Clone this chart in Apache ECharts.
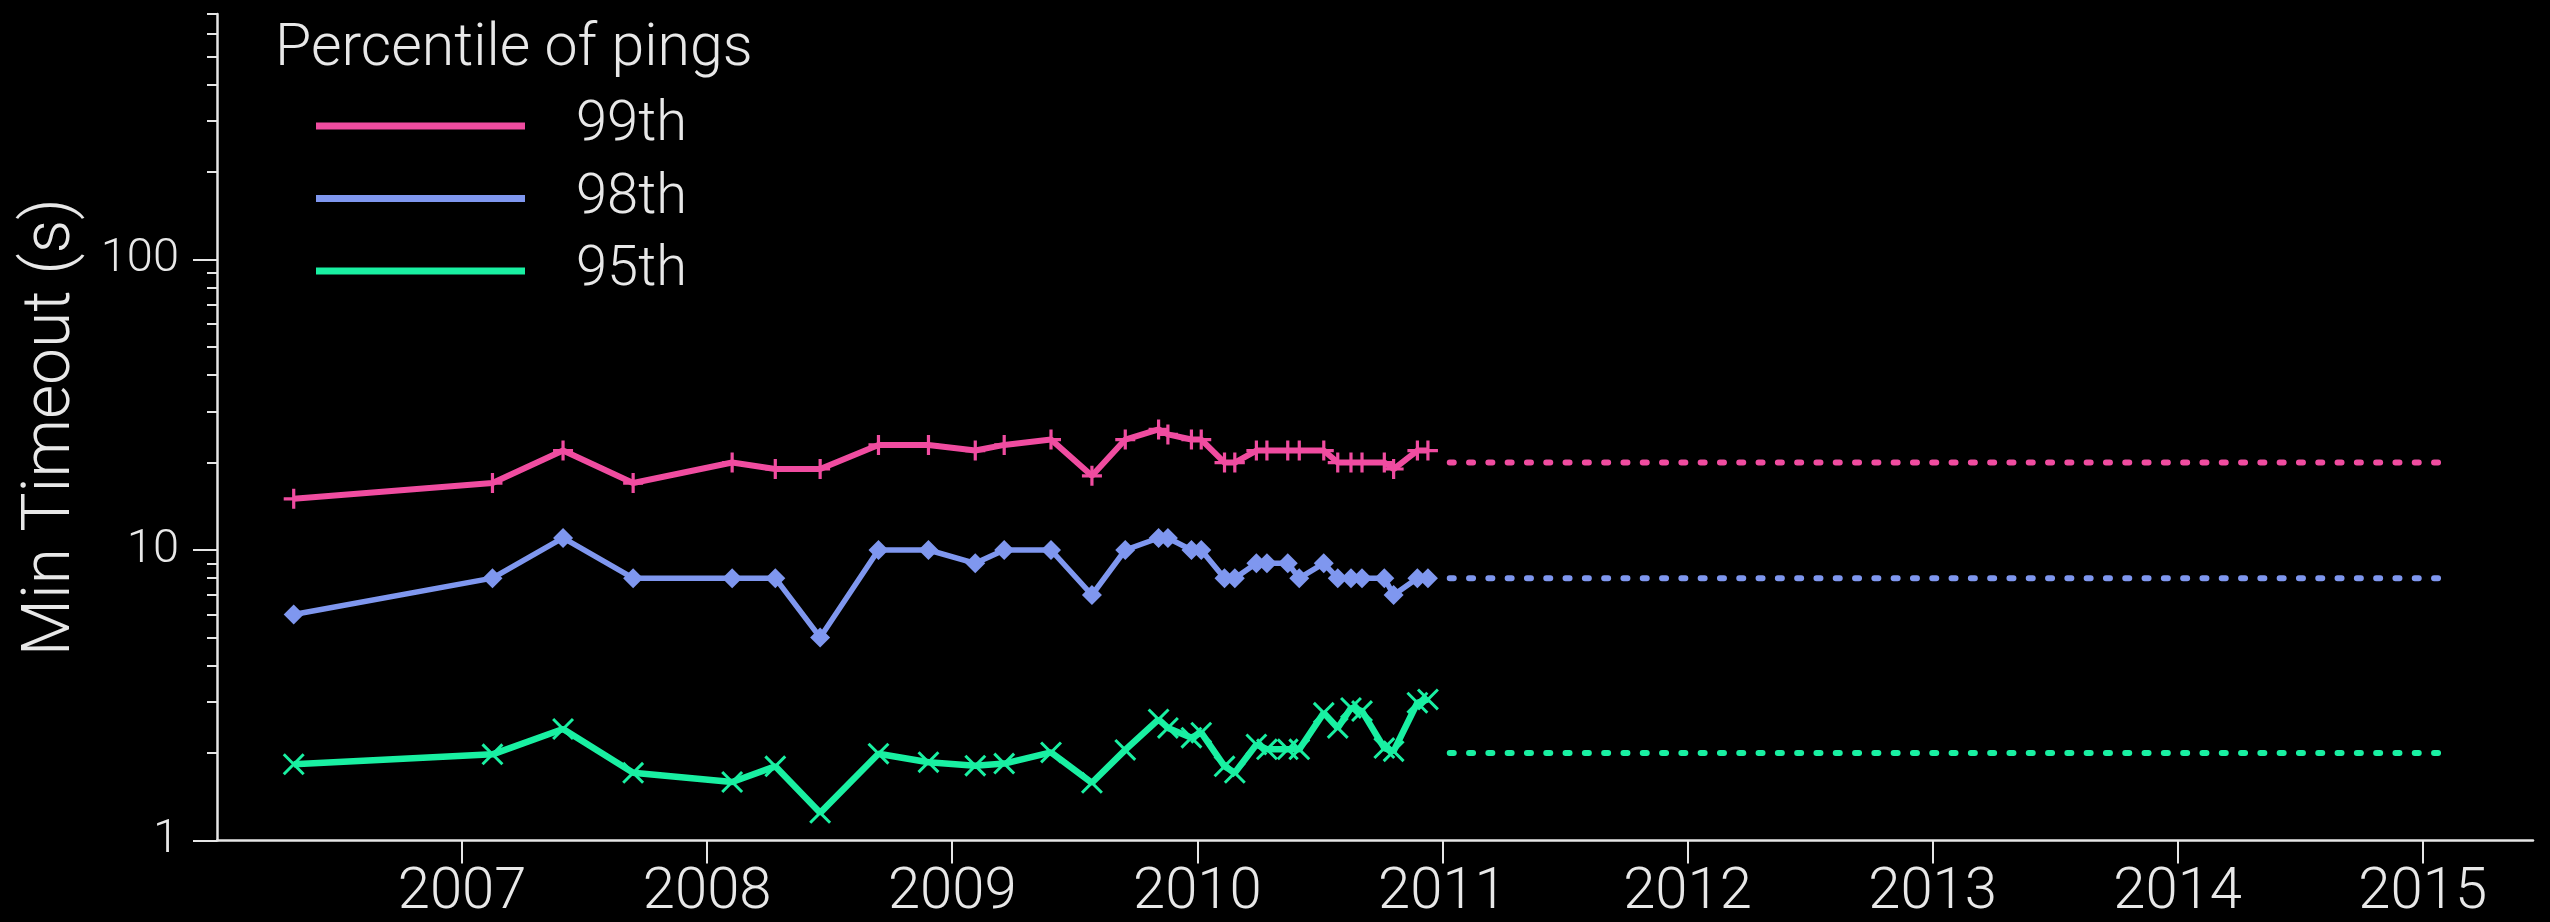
<!DOCTYPE html>
<html><head><meta charset="utf-8">
<script src="https://cdn.jsdelivr.net/npm/echarts@6/dist/echarts.min.js"></script>
<style>html,body{margin:0;padding:0;background:#000;}#c{width:2550px;height:922px;}</style>
</head><body><div id="c"></div>
<script>
// ---- data (decimal years, seconds) ----
const dates = [2006.313, 2007.124, 2007.412, 2007.698, 2008.102, 2008.278, 2008.461, 2008.699, 2008.903, 2009.094, 2009.212, 2009.403, 2009.570, 2009.706, 2009.842, 2009.880, 2009.976, 2010.016, 2010.111, 2010.153, 2010.241, 2010.284, 2010.369, 2010.416, 2010.516, 2010.573, 2010.627, 2010.672, 2010.763, 2010.801, 2010.898, 2010.941];
const p99 = [15, 17, 22, 17, 20, 19, 19, 23, 23, 22, 23, 24, 18, 24, 26, 25, 24, 24, 20, 20, 22, 22, 22, 22, 22, 20, 20, 20, 20, 19, 22, 22];
const p98 = [6, 8, 11, 8, 8, 8, 5, 10, 10, 9, 10, 10, 7, 10, 11, 11, 10, 10, 8, 8, 9, 9, 9, 8, 9, 8, 8, 8, 8, 7, 8, 8];
const p95 = [1.83, 1.98, 2.42, 1.71, 1.59, 1.80, 1.245, 1.99, 1.86, 1.81, 1.84, 2.01, 1.58, 2.05, 2.61, 2.44, 2.26, 2.35, 1.80, 1.71, 2.14, 2.06, 2.06, 2.06, 2.75, 2.44, 2.86, 2.79, 2.08, 2.03, 2.98, 3.06];
const projDates = [2011.03, 2015.08];
const proj99 = [20, 20];
const proj98 = [8, 8];
const proj95 = [2, 2];
const seriesNames = ['99th', '98th', '95th'];
const xTicks = [2007, 2008, 2009, 2010, 2011, 2012, 2013, 2014, 2015];
const yTicks = [1, 10, 100];
const yMinorTicks = [2, 3, 4, 5, 6, 7, 8, 9, 20, 30, 40, 50, 60, 70, 80, 90, 200, 300, 400, 500, 600, 700];
const xMin = 2006, xMax = 2015.45, yMin = 1, yMax = 700;

// ---- styling ----
const FONT = 'Roboto';
const TXT = '#e8e8e8';
const AX = '#e6e6e6';
const colors = ['#f04ca0', '#7f97ef', '#19f0a2'];
const plusPath = 'path://M-1.6,-10L1.6,-10L1.6,-1.6L10,-1.6L10,1.6L1.6,1.6L1.6,10L-1.6,10L-1.6,1.6L-10,1.6L-10,-1.6L-1.6,-1.6Z';
const xPath = 'path://M-8.94,-11.06L11.06,8.94L8.94,11.06L-11.06,-8.94ZM11.06,-8.94L-8.94,11.06L-11.06,8.94L8.94,-11.06Z';
const symbols = [plusPath, 'diamond', xPath];
const symSizes = [20, 20, 22];
const widths = [6, 5.5, 6.5];

const pair = (xs, ys) => xs.map((x, i) => [x, ys[i]]);
const mains = [p99, p98, p95];
const projs = [proj99, proj98, proj95];

const series = [];
mains.forEach((vals, i) => {
  series.push({
    name: seriesNames[i], type: 'line', data: pair(dates, vals),
    color: colors[i], symbol: symbols[i], symbolSize: symSizes[i], showSymbol: true,
    lineStyle: { width: widths[i], color: colors[i] },
    itemStyle: { color: colors[i] }, z: 3
  });
});
projs.forEach((vals, i) => {
  series.push({
    name: seriesNames[i] + ' proj', type: 'line', data: pair(projDates, vals),
    showSymbol: false, symbol: 'none', color: colors[i],
    lineStyle: { width: 6, color: colors[i], type: [4, 15.3], cap: 'round' }, z: 2
  });
});

const chart = echarts.init(document.getElementById('c'), null, { renderer: 'canvas' });
chart.setOption({
  backgroundColor: '#000',
  animation: false,
  title: {
    text: 'Percentile of pings', left: 270, top: 16,
    textStyle: { color: TXT, fontSize: 59, fontWeight: 300, fontFamily: FONT }
  },
  legend: {
    data: seriesNames, orient: 'vertical', left: 311, top: 91,
    icon: 'rect', itemWidth: 209, itemHeight: 7, itemGap: 12.5,
    textStyle: { color: TXT, fontSize: 56, fontWeight: 300, fontFamily: FONT, lineHeight: 60, padding: [0, 0, 0, 46] },
    selectedMode: false
  },
  grid: { left: 217, right: 17, top: 14, bottom: 81.5, containLabel: false, outerBoundsMode: 'none' },
  xAxis: {
    type: 'value', min: xMin, max: xMax, interval: 1,
    axisLine: { show: true, lineStyle: { color: AX, width: 2.5 } },
    axisTick: { show: true, length: 23, lineStyle: { color: AX, width: 2 }, customValues: xTicks },
    axisLabel: { customValues: xTicks, color: TXT, fontSize: 58, fontWeight: 300, fontFamily: FONT, margin: 24, formatter: v => String(v) },
    splitLine: { show: false }
  },
  yAxis: [{
    type: 'log', logBase: 10, min: yMin, max: yMax, position: 'left',
    name: 'Min Timeout (s)', nameLocation: 'middle', nameRotate: 90, nameGap: 132,
    nameTextStyle: { color: TXT, fontSize: 66, fontWeight: 300, fontFamily: FONT },
    axisLine: { show: true, lineStyle: { color: AX, width: 2.5 } },
    axisTick: { show: true, length: 24, lineStyle: { color: AX, width: 2 }, customValues: yTicks },
    axisLabel: { customValues: yTicks, color: TXT, fontSize: 47, fontWeight: 300, fontFamily: FONT, margin: 38, formatter: v => String(v) },
    splitLine: { show: false }
  }, {
    type: 'log', logBase: 10, min: yMin, max: yMax, position: 'left', offset: 0,
    axisLine: { show: false },
    axisTick: { show: true, length: 10, lineStyle: { color: AX, width: 2 }, customValues: yMinorTicks },
    axisLabel: { show: false },
    splitLine: { show: false }
  }],
  series: series
});
</script></body></html>
